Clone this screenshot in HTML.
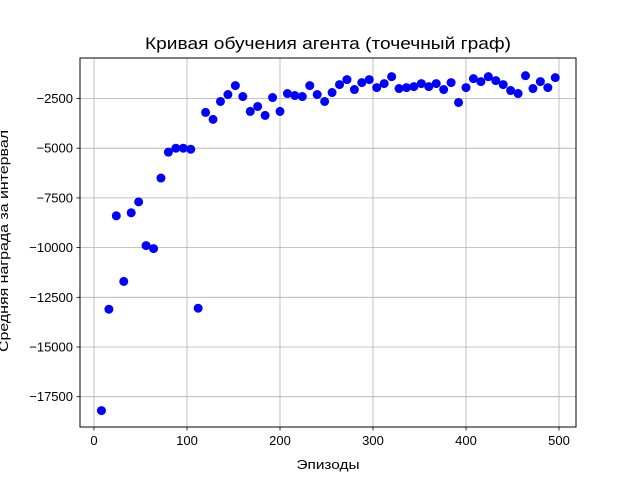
<!DOCTYPE html>
<html><head><meta charset="utf-8"><style>
body{margin:0;background:#fff;}
svg text{font-family:"Liberation Sans","DejaVu Sans",sans-serif;}
</style></head><body>
<svg id="c" width="640" height="480" xmlns="http://www.w3.org/2000/svg">
<rect width="640" height="480" fill="#fff"/>
<g id="grid"></g><g id="pts"></g><g id="ticks"></g>
<rect x="80" y="58" width="496" height="369" fill="none" stroke="#000" stroke-width="1"/>
<text x="328" y="49" text-anchor="middle" font-size="16.5" textLength="366" lengthAdjust="spacingAndGlyphs">Кривая обучения агента (точечный граф)</text>
<text x="328" y="469" text-anchor="middle" font-size="13" textLength="63" lengthAdjust="spacingAndGlyphs">Эпизоды</text>
<text transform="translate(8,241) rotate(-90)" text-anchor="middle" font-size="13" textLength="222" lengthAdjust="spacingAndGlyphs">Средняя награда за интервал</text>
</svg>
<script>
const episodes=[8,16,24,32,40,48,56,64,72,80,88,96,104,112,120,128,136,144,152,160,168,176,184,192,200,208,216,224,232,240,248,256,264,272,280,288,296,304,312,320,328,336,344,352,360,368,376,384,392,400,408,416,424,432,440,448,456,464,472,480,488,496];
const rewards=[-18200,-13100,-8400,-11700,-8250,-7700,-9900,-10050,-6500,-5200,-5000,-5000,-5050,-13050,-3200,-3550,-2650,-2300,-1850,-2400,-3150,-2900,-3350,-2450,-3150,-2250,-2350,-2400,-1850,-2300,-2650,-2200,-1800,-1550,-2050,-1700,-1550,-1950,-1750,-1400,-2000,-1950,-1900,-1750,-1900,-1750,-2050,-1700,-2700,-1950,-1500,-1650,-1400,-1600,-1800,-2100,-2250,-1350,-2000,-1650,-1950,-1450];
const xTicks=[0,100,200,300,400,500];
const yTicks=[-17500,-15000,-12500,-10000,-7500,-5000,-2500];
const NS="http://www.w3.org/2000/svg";
function xs(v){return 94+v*0.93;}
function ys(v){return 98.5+(-2500-v)*0.01988;}
function mk(t,a,p){const e=document.createElementNS(NS,t);for(const k in a)e.setAttribute(k,a[k]);p.appendChild(e);return e;}
const g=document.getElementById('grid'),tk=document.getElementById('ticks'),pts=document.getElementById('pts');
xTicks.forEach(v=>{const x=xs(v);
 const l=mk('line',{x1:x,x2:x,y1:58,y2:427,stroke:'#b0b0b0','stroke-width':0.8},g);
 
 
 mk('line',{x1:x,x2:x,y1:427,y2:430.5,stroke:'#000','stroke-width':0.8},tk);
 const t=mk('text',{x:x,y:445,'text-anchor':'middle','font-size':'13'},tk);t.textContent=v;
 
 
});
yTicks.forEach(v=>{const y=ys(v);
 const l=mk('line',{x1:80,x2:576,y1:y,y2:y,stroke:'#b0b0b0','stroke-width':0.8},g);
 
 
 mk('line',{x1:76.5,x2:80,y1:y,y2:y,stroke:'#000','stroke-width':0.8},tk);
 const t=mk('text',{x:73,y:y+4.5,'text-anchor':'end','font-size':'13'},tk);t.textContent='\u2212'+Math.abs(v);
 
 
});
episodes.forEach((e,i)=>{
 const c=mk('circle',{cx:xs(e),cy:ys(rewards[i]),r:4.5,fill:'#0000ff'},pts);
 
 
});
</script>
</body></html>
